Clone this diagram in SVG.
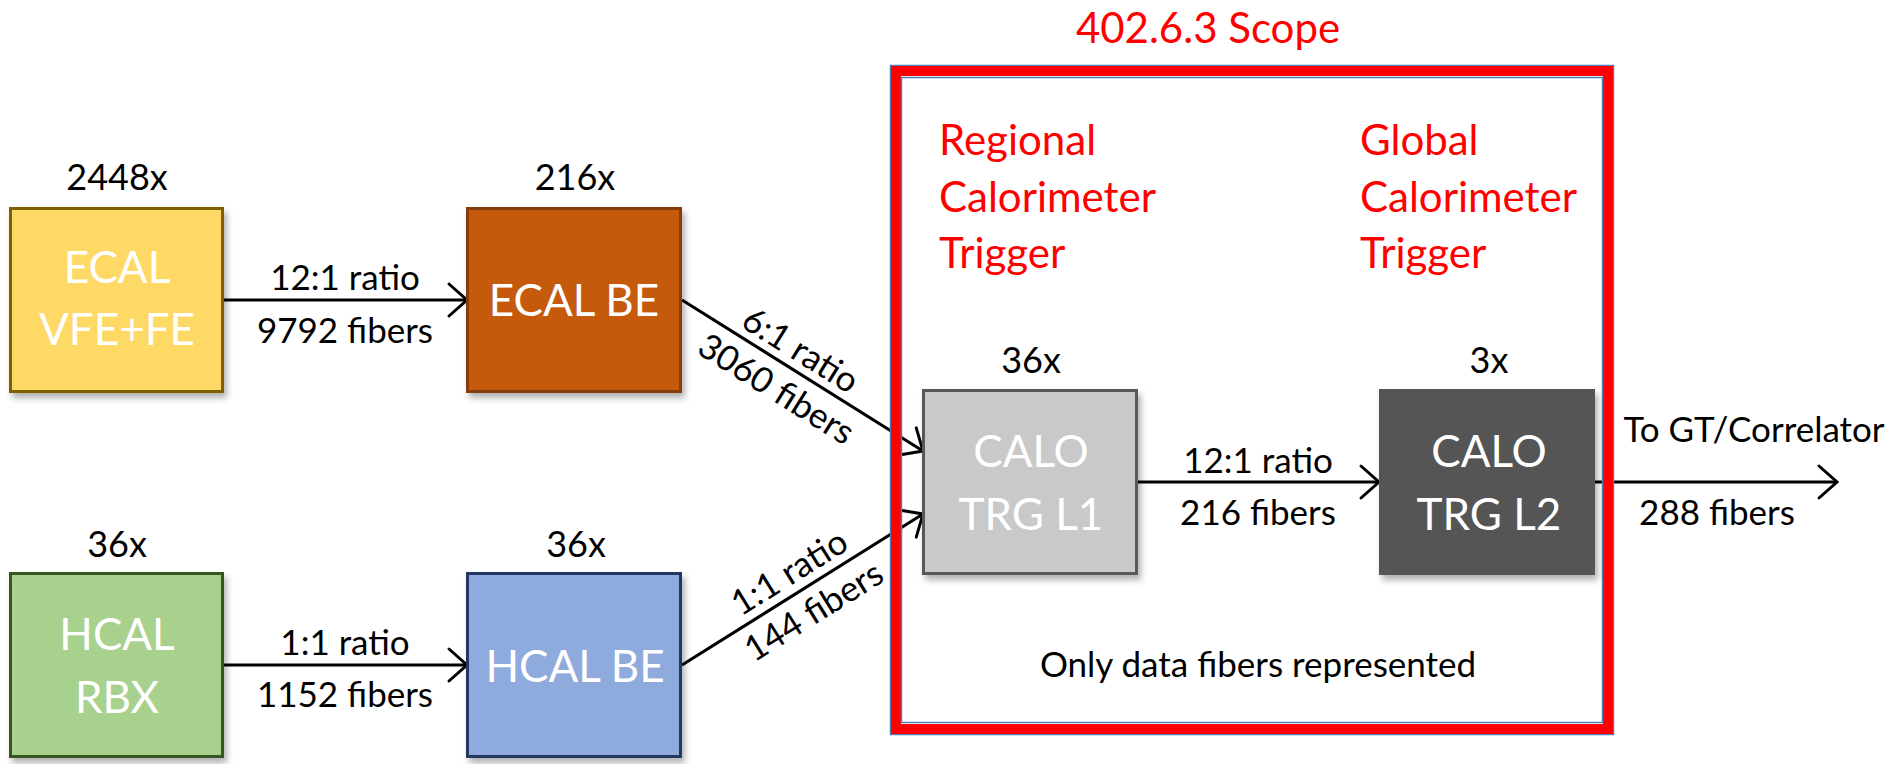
<svg xmlns="http://www.w3.org/2000/svg" width="1903" height="764" viewBox="0 0 1903 764">
<defs>
<filter id="sh" x="-10%" y="-10%" width="130%" height="130%">
<feDropShadow dx="3" dy="5" stdDeviation="3" flood-color="#000" flood-opacity="0.3"/>
</filter>
<marker id="ah" markerUnits="userSpaceOnUse" markerWidth="44" markerHeight="44" viewBox="-22 -22 44 44" refX="0" refY="0" orient="auto">
<path d="M-18,-16 L0,0 L-18,16" fill="none" stroke="#000" stroke-width="3" stroke-linecap="round" stroke-linejoin="miter"/>
</marker>
</defs>
<style>
text{font-family:Lato,"Open Sans","Liberation Sans",sans-serif}
.cnt{font-size:36px;fill:#000;text-anchor:middle}
.lbl{font-size:35px;fill:#000;text-anchor:middle}
.box{font-size:44px;fill:#fff;text-anchor:middle}
.red{font-size:42px;fill:#ff0000}
.con{stroke:#000;stroke-width:3;fill:none;marker-end:url(#ah)}
.nb{stroke-width:3}
</style>
<rect width="1903" height="764" fill="#fff"/>

<g id="scope-bg">
<rect x="890.5" y="65.5" width="723" height="669" fill="#fff"/>
</g>

<g id="connectors">
<line class="con" x1="224" y1="300" x2="467" y2="300"/>
<line class="con" x1="224" y1="665" x2="467" y2="665"/>
<line class="con" x1="682" y1="300" x2="923" y2="451"/>
<line class="con" x1="682" y1="665" x2="923" y2="514"/>
<line class="con" x1="1138" y1="482" x2="1379" y2="482"/>
<line class="con" x1="1594" y1="482" x2="1837" y2="482"/>
<text class="lbl" x="345" y="290">12:1 ratio</text>
<text class="lbl" x="345" y="343">9792 fibers</text>
<text class="lbl" x="345" y="655">1:1 ratio</text>
<text class="lbl" x="345" y="707">1152 fibers</text>
<g transform="translate(790,367) rotate(32)">
<text class="lbl" x="0" y="-8">6:1 ratio</text>
<text class="lbl" x="0" y="38">3060 fibers</text>
</g>
<g transform="translate(801,591) rotate(-32)">
<text class="lbl" x="0" y="-10">1:1 ratio</text>
<text class="lbl" x="0" y="36">144 fibers</text>
</g>
<text class="lbl" x="1258" y="473">12:1 ratio</text>
<text class="lbl" x="1258" y="525">216 fibers</text>
<text class="lbl" x="1754" y="442">To GT/Correlator</text>
<text class="lbl" x="1717" y="525">288 fibers</text>
</g>

<g id="scope">
<rect x="890.5" y="65.5" width="723" height="669" fill="none" stroke="#4f81bd" stroke-width="1.5"/>
<rect x="896" y="71" width="712" height="658" fill="none" stroke="#ff0000" stroke-width="10"/>
<rect x="901.5" y="77.5" width="701" height="645" fill="none" stroke="#4f81bd" stroke-width="1.5"/>
<text class="red" x="1208" y="43" text-anchor="middle">402.6.3 Scope</text>
<text class="red" x="939" y="155">Regional</text>
<text class="red" x="939" y="212">Calorimeter</text>
<text class="red" x="939" y="268">Trigger</text>
<text class="red" x="1360" y="155">Global</text>
<text class="red" x="1360" y="212">Calorimeter</text>
<text class="red" x="1360" y="268">Trigger</text>
<text class="lbl" x="1258" y="677">Only data fibers represented</text>
</g>

<g id="ecal-fe">
<rect x="10.5" y="208.5" width="212" height="183" fill="#ffd966" stroke="#7f6000" class="nb" filter="url(#sh)"/>
<text class="cnt" x="117" y="190">2448x</text>
<text class="box" x="117" y="283">ECAL</text>
<text class="box" x="117" y="345">VFE+FE</text>
</g>

<g id="ecal-be">
<rect x="467.5" y="208.5" width="213" height="183" fill="#c55a11" stroke="#843c0c" class="nb" filter="url(#sh)"/>
<text class="cnt" x="575" y="190">216x</text>
<text class="box" x="574" y="316">ECAL BE</text>
</g>

<g id="hcal-rbx">
<rect x="10.5" y="573.5" width="212" height="183" fill="#a9d18e" stroke="#385723" class="nb" filter="url(#sh)"/>
<text class="cnt" x="117" y="557">36x</text>
<text class="box" x="117" y="650">HCAL</text>
<text class="box" x="117" y="713">RBX</text>
</g>

<g id="hcal-be">
<rect x="467.5" y="573.5" width="213" height="183" fill="#8faadc" stroke="#203864" class="nb" filter="url(#sh)"/>
<text class="cnt" x="576" y="557">36x</text>
<text class="box" x="575" y="682">HCAL BE</text>
</g>

<g id="calo-l1">
<rect x="923.5" y="390.5" width="213" height="183" fill="#c9c9c9" stroke="#595959" class="nb" filter="url(#sh)"/>
<text class="cnt" x="1031" y="373">36x</text>
<text class="box" x="1031" y="467">CALO</text>
<text class="box" x="1031" y="530">TRG L1</text>
</g>

<g id="calo-l2">
<rect x="1379" y="389" width="216" height="186" fill="#545454" filter="url(#sh)"/>
<text class="cnt" x="1489" y="373">3x</text>
<text class="box" x="1489" y="467">CALO</text>
<text class="box" x="1489" y="530">TRG L2</text>
</g>
</svg>
